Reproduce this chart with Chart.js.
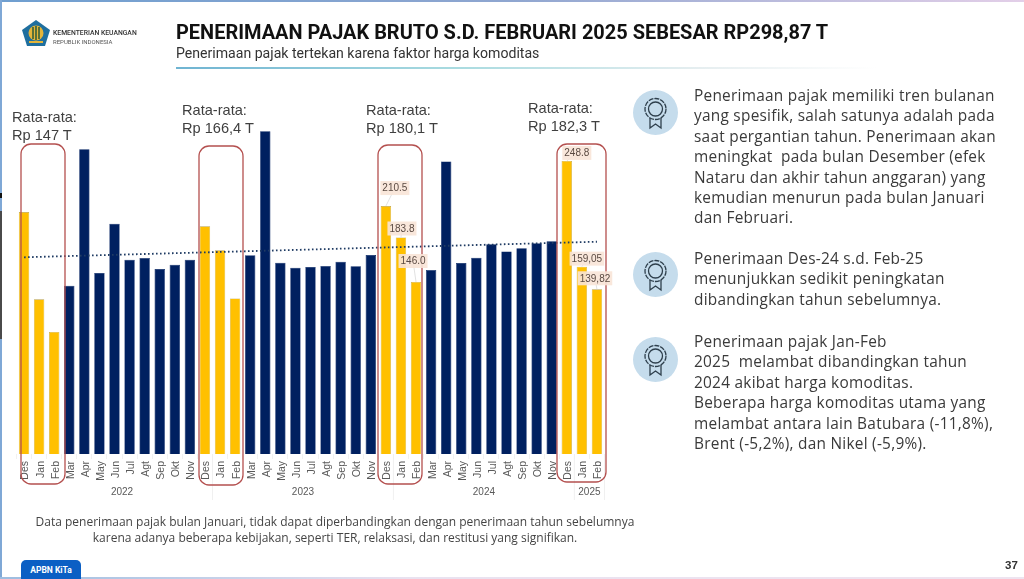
<!DOCTYPE html>
<html lang="id">
<head>
<meta charset="utf-8">
<title>Penerimaan Pajak Bruto</title>
<script src="https://cdn.jsdelivr.net/npm/chart.js@4"></script>
<style>
    html, body { margin: 0; padding: 0; background: #fff; }
    #slide { position: relative; width: 1024px; height: 579px; overflow: hidden; background: #fff; font-family: Roboto, sans-serif; }
    #chart { position: absolute; left: 0; top: 0; }
    .abs { position: absolute; white-space: pre; }
    .avg { font-family: "Liberation Sans", sans-serif; font-size: 14.6px; line-height: 18px; color: #404040; }
    .para { left: 694px; font-family: "Open Sans", sans-serif; font-size: 15.4px; letter-spacing: 0.26px; line-height: 20.4px; color: #3a3a3a; }
    .medal { position: absolute; left: 633px; width: 45px; height: 45px; }
</style>
</head>
<body>
<div id="slide">
    <canvas id="chart" width="1024" height="579"></canvas>

    <div class="abs" style="left:0;top:0;width:1024px;height:2px;background:linear-gradient(90deg,#6f9fd0,#8fa6d0 50%,#e3cfe8)"></div>
    <div class="abs" style="left:0;top:0;width:2px;height:579px;background:#7fa8d6"></div>
    <div class="abs" style="left:0;top:577px;width:1024px;height:2px;background:linear-gradient(90deg,#9dbde0,#e9e2f0 40%,#eee4f0)"></div>
    <div class="abs" style="left:0;top:211px;width:2px;height:128px;background:#4a4a4a"></div>
    <div class="abs" style="left:0;top:193px;width:2px;height:5px;background:#111"></div>

    <svg class="abs" style="left:21px;top:19px" width="30" height="29" viewBox="0 0 30 29">
        <polygon points="15,1 29,11 24,27 6,27 1,11" fill="#1f6f9f"/>
        <circle cx="15" cy="14" r="7.5" fill="#e3b53a"/>
        <path d="M12 8 L12 20 M15 7 L15 21 M18 8 L18 20" stroke="#2a5a3a" stroke-width="1.5"/>
        <rect x="8" y="22" width="14" height="2" fill="#e3b53a"/>
    </svg>
    <div class="abs" style="left:53px;top:29px;font-size:6.8px;line-height:9px;color:#333;font-weight:500">KEMENTERIAN KEUANGAN</div>
    <div class="abs" style="left:53px;top:38px;font-size:6px;line-height:8px;color:#555">REPUBLIK INDONESIA</div>

    <div class="abs" style="left:176px;top:20px;font-size:19.97px;line-height:24px;font-weight:700;color:#111">PENERIMAAN PAJAK BRUTO S.D. FEBRUARI 2025 SEBESAR RP298,87 T</div>
    <div class="abs" style="left:176px;top:44px;font-size:14.1px;line-height:18px;color:#333">Penerimaan pajak tertekan karena faktor harga komoditas</div>
    <div class="abs" style="left:176px;top:67px;width:700px;height:2px;background:linear-gradient(90deg,#6fb4d2,#a9dbe0 40%,#e6eef0 75%,#fff)"></div>

    <div class="abs avg" style="left:12px;top:108px">Rata-rata:
Rp 147 T</div>
    <div class="abs avg" style="left:182px;top:101px">Rata-rata:
Rp 166,4 T</div>
    <div class="abs avg" style="left:366px;top:101px">Rata-rata:
Rp 180,1 T</div>
    <div class="abs avg" style="left:528px;top:99px">Rata-rata:
Rp 182,3 T</div>

    <svg class="medal" style="top:90px" viewBox="0 0 45 45"><use href="#medalIcon"/></svg>
    <svg class="medal" style="top:252px" viewBox="0 0 45 45"><use href="#medalIcon"/></svg>
    <svg class="medal" style="top:337px" viewBox="0 0 45 45"><use href="#medalIcon"/></svg>
    <svg width="0" height="0" style="position:absolute">
        <defs>
            <g id="medalIcon">
                <circle cx="22.5" cy="22.5" r="22.5" fill="#c5dcec"/>
                <circle cx="22.5" cy="19" r="10.5" fill="none" stroke="#2e3f4c" stroke-width="1.3" stroke-dasharray="5 1"/>
                <circle cx="22.5" cy="19" r="7" fill="none" stroke="#2e3f4c" stroke-width="1.3"/>
                <path d="M17 28 V38 L22.5 34 L28 38 V28" fill="none" stroke="#2e3f4c" stroke-width="1.3"/>
            </g>
        </defs>
    </svg>

    <div class="abs para" style="top:86px">Penerimaan pajak memiliki tren bulanan
yang spesifik, salah satunya adalah pada
saat pergantian tahun. Penerimaan akan
meningkat  pada bulan Desember (efek
Nataru dan akhir tahun anggaran) yang
kemudian menurun pada bulan Januari
dan Februari.</div>
    <div class="abs para" style="top:249px">Penerimaan Des-24 s.d. Feb-25
menunjukkan sedikit peningkatan
dibandingkan tahun sebelumnya.</div>
    <div class="abs para" style="top:332px">Penerimaan pajak Jan-Feb
2025  melambat dibandingkan tahun
2024 akibat harga komoditas.
Beberapa harga komoditas utama yang
melambat antara lain Batubara (-11,8%),
Brent (-5,2%), dan Nikel (-5,9%).</div>

    <div class="abs" style="left:0;width:670px;top:514px;text-align:center;font-family:'Open Sans',sans-serif;font-size:12px;line-height:16px;color:#444">Data penerimaan pajak bulan Januari, tidak dapat diperbandingkan dengan penerimaan tahun sebelumnya
karena adanya beberapa kebijakan, seperti TER, relaksasi, dan restitusi yang signifikan.</div>

    <div class="abs" style="left:21px;top:560px;width:60px;height:19px;background:#0b5fc4;border-radius:5px 5px 0 0;color:#fff;font-size:8.5px;font-weight:700;line-height:20px;text-align:center">APBN KiTa</div>
    <div class="abs" style="left:1005px;top:559px;font-family:'Liberation Sans',sans-serif;font-size:11.5px;font-weight:700;color:#333">37</div>
</div>

<script>
const months = [
    "Des", "Jan", "Feb", "Mar", "Apr", "May", "Jun", "Jul", "Agt", "Sep", "Okt", "Nov",
    "Des", "Jan", "Feb", "Mar", "Apr", "May", "Jun", "Jul", "Agt", "Sep", "Okt", "Nov",
    "Des", "Jan", "Feb", "Mar", "Apr", "May", "Jun", "Jul", "Agt", "Sep", "Okt", "Nov",
    "Des", "Jan", "Feb"
];

const penerimaan = [
    205.4, 131.3, 103.6, 142.9, 258.6, 153.6, 195.5, 165.0, 166.4, 157.0, 160.7, 165.0,
    193.3, 172.9, 132.1, 168.7, 273.9, 162.4, 158.2, 158.7, 159.6, 163.3, 159.3, 168.9,
    210.5, 183.8, 146.0, 156.2, 248.4, 162.1, 166.7, 178.0, 172.0, 174.6, 178.9, 180.5,
    248.8, 159.05, 139.82
];

// garis tren, hanya titik awal dan akhir
const trendAwal = 167;
const trendAkhir = 180.2;

const tahun = ["2022", "2023", "2024", "2025"];
const tahunDari = [1, 13, 25, 37];
const tahunSampai = [12, 24, 36, 38];

// bulan Des-Jan-Feb
const isPergantianTahun = (i) => months[i] === "Des" || months[i] === "Jan" || months[i] === "Feb";

const labelNilai = [
    { i: 24, text: "210.5", dx: 9, dy: -18 },
    { i: 25, text: "183.8", dx: 1, dy: -9 },
    { i: 26, text: "146.0", dx: -3, dy: -21 },
    { i: 36, text: "248.8", dx: 10, dy: -8 },
    { i: 37, text: "159,05", dx: 5, dy: -8 },
    { i: 38, text: "139,82", dx: -2, dy: -11 }
];

const kotak = [
    { left: 21, right: 65, top: 144, bottom: 484 },
    { left: 199, right: 243, top: 146, bottom: 485 },
    { left: 378, right: 422, top: 145, bottom: 484 },
    { left: 557, right: 606, top: 144, bottom: 482 }
];

const overlay = {
    id: "overlay",
    afterDraw(chart) {
        const ctx = chart.ctx;
        const x = chart.scales.x;
        const y = chart.scales.y;
        const step = x.getPixelForValue(1) - x.getPixelForValue(0);

        // tahun di bawah label bulan
        ctx.save();
        ctx.font = "10px 'Liberation Sans', sans-serif";
        ctx.fillStyle = "#595959";
        ctx.textAlign = "center";
        ctx.textBaseline = "middle";
        tahun.forEach((t, n) => {
            const tengah = (x.getPixelForValue(tahunDari[n]) + x.getPixelForValue(tahunSampai[n])) / 2;
            ctx.fillText(t, tengah, 492);
            const batas = x.getPixelForValue(tahunSampai[n]) + step / 2;
            ctx.strokeStyle = "#f0f0f0";
            ctx.lineWidth = 1;
            ctx.beginPath();
            ctx.moveTo(batas, 454);
            ctx.lineTo(batas, 500);
            ctx.stroke();
        });

        // kotak merah
        ctx.strokeStyle = "#b4504f";
        ctx.lineWidth = 1.3;
        kotak.forEach((k) => {
            ctx.beginPath();
            ctx.roundRect(k.left, k.top, k.right - k.left, k.bottom - k.top, 10);
            ctx.stroke();
        });

        // label nilai
        ctx.font = "10px 'Liberation Sans', sans-serif";
        labelNilai.forEach((l) => {
            const px = x.getPixelForValue(l.i);
            const py = y.getPixelForValue(penerimaan[l.i]);
            const w = ctx.measureText(l.text).width + 4;
            const cx = px + l.dx;
            const cy = py + l.dy;
            ctx.strokeStyle = "#d9d9d9";
            ctx.lineWidth = 0.8;
            ctx.beginPath();
            ctx.moveTo(cx, cy);
            ctx.lineTo(px, py);
            ctx.stroke();
            ctx.fillStyle = "rgba(248, 228, 215, 0.9)";
            ctx.fillRect(cx - w / 2, cy - 7, w, 14);
            ctx.fillStyle = "#5a4a42";
            ctx.fillText(l.text, cx, cy + 0.5);
        });
        ctx.restore();
    }
};

new Chart(document.getElementById("chart"), {
    data: {
        labels: months,
        datasets: [
            {
                type: "line",
                data: months.map((m, i) => i === 0 ? trendAwal : i === months.length - 1 ? trendAkhir : null),
                spanGaps: true,
                borderColor: "#1f3b63",
                borderWidth: 1.8,
                borderDash: [1.6, 2.4],
                pointRadius: 0,
                order: 0
            },
            {
                type: "bar",
                data: penerimaan,
                backgroundColor: months.map((m, i) => isPergantianTahun(i) ? "#ffc000" : "#002060"),
                borderColor: months.map((m, i) => isPergantianTahun(i) ? "#b9a04a" : "#002060"),
                borderWidth: 0.6,
                categoryPercentage: 1,
                barPercentage: 0.69,
                order: 1
            }
        ]
    },
    options: {
        responsive: false,
        animation: false,
        layout: { padding: { left: 16.5, right: 419.5, top: 90, bottom: 0 } },
        plugins: { legend: { display: false }, tooltip: { enabled: false } },
        scales: {
            x: {
                grid: { drawOnChartArea: false, drawTicks: true, tickLength: 5, color: "#f1f1f1" },
                border: { display: false },
                afterFit(scale) { scale.height = 125; },
                ticks: {
                    autoSkip: false,
                    minRotation: 90,
                    maxRotation: 90,
                    padding: 2,
                    labelOffset: 1.5,
                    color: "#595959",
                    font: { family: "'Liberation Sans', sans-serif", size: 10.5 }
                }
            },
            y: { display: false, min: 0, max: 309 }
        }
    },
    plugins: [overlay]
});
</script>
</body>
</html>
